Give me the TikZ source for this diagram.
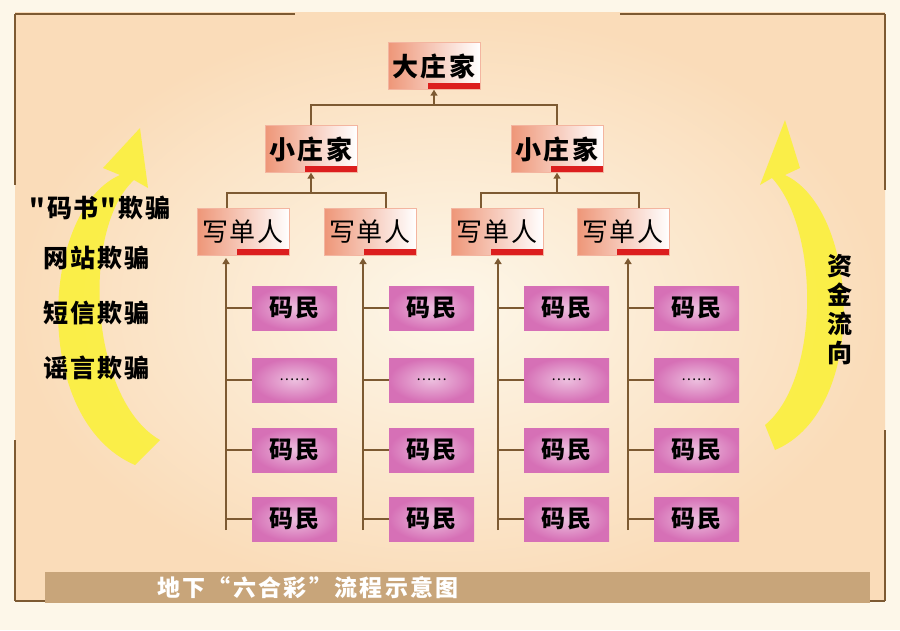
\documentclass[tikz,border=0pt]{standalone}
\usepackage{fontspec}
\newfontfamily\cjk{Noto Sans CJK SC}
\newcommand\cjkb{\cjk\bfseries}
\usetikzlibrary{positioning,arrows.meta,calc}
\definecolor{peach}{RGB}{250,220,185}
\definecolor{cream}{RGB}{253,247,233}
\definecolor{salmon}{RGB}{238,150,120}
\definecolor{barred}{RGB}{220,30,30}
\definecolor{mapink}{RGB}{214,112,182}
\definecolor{stem}{RGB}{125,90,50}
\definecolor{bartan}{RGB}{200,165,122}
\definecolor{arrowyel}{RGB}{250,240,60}
\tikzset{
  boss/.style={minimum width=92pt,minimum height=47pt,inner sep=0pt,
    left color=salmon,right color=white,draw=salmon!70,
    font=\cjkb\fontsize{26}{26}\selectfont\addfontfeature{LetterSpace=8},
    path picture={\fill[barred] ([xshift=-6pt]path picture bounding box.south)
      rectangle ([yshift=7pt]path picture bounding box.south east);}},
  writer/.style={boss,font=\cjk\fontsize{26}{26}\selectfont\addfontfeature{LetterSpace=5}},
  bettor/.style={minimum width=85pt,minimum height=44pt,inner sep=0pt,
    inner color=mapink!45,outer color=mapink,
    font=\cjkb\fontsize{24}{24}\selectfont\addfontfeature{LetterSpace=6}},
  link/.style={stem,line width=1.6pt},
  up/.style={link,-{Triangle[width=7pt,length=6pt]}},
  side/.style={font=\cjkb\fontsize{25}{25}\selectfont\addfontfeature{LetterSpace=8}}
}
\begin{document}
\begin{tikzpicture}[x=1pt,y=-1pt]
\fill[cream] (0,0) rectangle (900,630);
\shade[inner color=cream,outer color=peach] (15,12) rectangle (885,600);
\draw[stem,line width=1.2pt] (15,14) -- (295,14) (620,14) -- (885,14)
  (15,601) -- (295,601) (625,601) -- (885,601)
  (15,14) -- (15,185) (15,440) -- (15,601)
  (885,14) -- (885,190) (885,430) -- (885,601);
% yellow arrows
\fill[arrowyel,opacity=.9] (135,465) .. controls (30,420) and (40,210) .. (120,175)
  -- (103,168) -- (140,128) -- (148,188) -- (134,180)
  .. controls (80,230) and (90,400) .. (160,440) -- cycle;
\fill[arrowyel,opacity=.9] (775,450) .. controls (870,410) and (860,210) .. (785,175)
  -- (800,168) -- (785,120) -- (760,185) -- (772,178)
  .. controls (820,230) and (820,380) .. (765,425) -- cycle;
% top levels
\node[boss] (top) at (434,66) {大庄家};
\node[boss] (mid1) at (311,149) {小庄家};
\node[boss] (mid2) at (557,149) {小庄家};
\coordinate (j0) at (434,105);
\draw[up] (j0) -- (top);
\draw[link] (mid1.north) |- (j0) -| (mid2.north);
\foreach \x/\n in {243/1,370/2,497/3,623/4}
  \node[writer] (w\n) at (\x,232) {写单人};
\foreach \m/\a/\b in {1/1/2,2/3/4}{
  \coordinate (k\m) at ($(mid\m.south)+(0,20)$);
  \draw[up] (k\m) -- (mid\m);
  \draw[link] ([xshift=30pt]w\a.north west) |- (k\m) -| ([xshift=-30pt]w\b.north east);
}
% columns of bettors
\foreach \n/\s in {1/226,2/363,3/498,4/628}{
  \foreach \r/\y/\t in {1/308/码民,2/380/{\mdseries\fontsize{14}{14}\selectfont……},3/450/码民,4/519/码民}{
    \node[bettor] (b\n\r) at (\s+68.5,\y) {\t};
    \draw[link] (b\n\r.west) -- (\s,\y);
  }
  \draw[up] (\s,530) -- (\s,258);
}
% side texts
\node[side] (s1) at (100,208) {"码书"欺骗};
\node[side] (s2) at (96,258) {网站欺骗};
\node[side] (s3) at (96,313) {短信欺骗};
\node[side] (s4) at (96,368) {谣言欺骗};
\node[side,align=center] (flow) at (840,310) {资\\[4pt]金\\[4pt]流\\[4pt]向};
% caption bar
\fill[bartan] (45,572) rectangle (870,603);
\node[font=\cjkb\fontsize{23}{23}\selectfont\addfontfeature{LetterSpace=10},text=white] (cap) at (308,588) {地下“六合彩”流程示意图};
\end{tikzpicture}
\end{document}
